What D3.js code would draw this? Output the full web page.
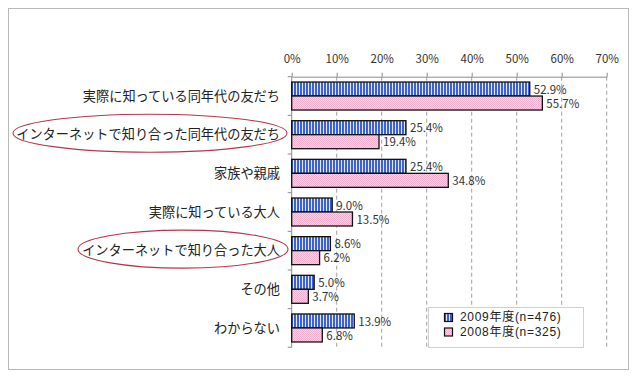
<!DOCTYPE html>
<html><head><meta charset="utf-8">
<script src="https://cdn.jsdelivr.net/npm/d3@7/dist/d3.min.js"></script>
<style>
html,body{margin:0;padding:0;background:#fff;}
svg{display:block;font-family:"Noto Sans CJK JP","Noto Sans",sans-serif;}
</style></head>
<body>
<svg id="chart" width="640" height="381"></svg>
<script>
const categories = ["実際に知っている同年代の友だち","インターネットで知り合った同年代の友だち","家族や親戚","実際に知っている大人","インターネットで知り合った大人","その他","わからない"];
const values2009 = [52.9, 25.4, 25.4, 9.0, 8.6, 5.0, 13.9];
const values2008 = [55.7, 19.4, 34.8, 13.5, 6.2, 3.7, 6.8];
const seriesNames = ["2009年度(n=476)", "2008年度(n=325)"];
const tickValues = [0, 10, 20, 30, 40, 50, 60, 70];
const highlighted = ["インターネットで知り合った同年代の友だち", "インターネットで知り合った大人"];

const svg = d3.select("#chart");
const defs = svg.append("defs");
const pb = defs.append("pattern").attr("id","blueStripe").attr("patternUnits","userSpaceOnUse").attr("width",3).attr("height",4);
pb.append("rect").attr("width",3).attr("height",4).attr("fill","#dfe7fb");
pb.append("rect").attr("width",2).attr("height",4).attr("fill","#3f63c6");
const pp = defs.append("pattern").attr("id","pinkDot").attr("patternUnits","userSpaceOnUse").attr("width",2).attr("height",2);
pp.append("rect").attr("width",2).attr("height",2).attr("fill","#f8d2e5");
pp.append("rect").attr("width",1).attr("height",1).attr("fill","#eeb0cf");
pp.append("rect").attr("x",1).attr("y",1).attr("width",1).attr("height",1).attr("fill","#eeb0cf");

svg.append("rect").attr("x",8.5).attr("y",8.5).attr("width",620).attr("height",361)
  .attr("fill","#fff").attr("stroke","#b8b8b8").attr("stroke-width",1);

const x = d3.scaleLinear().domain([0,70]).range([291.7, 606.7]);
const y = d3.scaleBand().domain(categories).range([76.7, 347.3]);
const barH = 14;

svg.append("g").selectAll("line").data(tickValues.filter(d=>d>0)).join("line")
  .attr("x1",d=>x(d)).attr("x2",d=>x(d)).attr("y1",y.range()[0]).attr("y2",y.range()[1])
  .attr("stroke","#a0a0a0").attr("stroke-width",1).attr("stroke-dasharray","4,3");

const topAxis = d3.axisTop(x).tickValues(tickValues).tickFormat(d=>d+"%").tickSize(4).tickSizeOuter(0);
const gt = svg.append("g").attr("transform",`translate(0,${y.range()[0]})`).call(topAxis);
gt.select(".domain").attr("stroke","#8c8c8c");
gt.selectAll(".tick line").attr("stroke","#8c8c8c");
gt.selectAll("text").attr("font-size",11.5).attr("fill","#333").attr("dy","-0.55em")
  .attr("font-family","'Noto Sans CJK JP',sans-serif");

svg.append("line").attr("x1",x(0)).attr("x2",x(0)).attr("y1",y.range()[0]).attr("y2",y.range()[1])
  .attr("stroke","#8c8c8c");
const bounds = categories.map(c=>y(c)).concat([y.range()[1]]);
svg.append("g").selectAll("line").data(bounds).join("line")
  .attr("x1",x(0)-4).attr("x2",x(0)).attr("y1",d=>d).attr("y2",d=>d).attr("stroke","#8c8c8c");

const rows = categories.map((c,i)=>({c, v9:values2009[i], v8:values2008[i]}));
const g = svg.append("g");
g.selectAll(".b9").data(rows).join("rect").attr("class","b9")
  .attr("x",x(0)).attr("y",d=>y(d.c)+y.bandwidth()/2-barH)
  .attr("width",d=>x(d.v9)-x(0)).attr("height",barH)
  .attr("fill","url(#blueStripe)").attr("stroke","#111").attr("stroke-width",1.3);
g.selectAll(".b8").data(rows).join("rect").attr("class","b8")
  .attr("x",x(0)).attr("y",d=>y(d.c)+y.bandwidth()/2)
  .attr("width",d=>x(d.v8)-x(0)).attr("height",barH)
  .attr("fill","url(#pinkDot)").attr("stroke","#111").attr("stroke-width",1.3);

g.selectAll(".l9").data(rows).join("text")
  .attr("x",d=>x(d.v9)+4).attr("y",d=>y(d.c)+y.bandwidth()/2-barH/2+1.5)
  .attr("dominant-baseline","middle").attr("font-size",11.5).attr("fill","#333")
  .text(d=>d.v9.toFixed(1)+"%");
g.selectAll(".l8").data(rows).join("text")
  .attr("x",d=>x(d.v8)+4).attr("y",d=>y(d.c)+y.bandwidth()/2+barH/2+1.5)
  .attr("dominant-baseline","middle").attr("font-size",11.5).attr("fill","#333")
  .text(d=>d.v8.toFixed(1)+"%");

svg.append("g").selectAll("text").data(categories).join("text")
  .attr("x",280).attr("y",d=>y(d)+y.bandwidth()/2+1)
  .attr("text-anchor","end").attr("dominant-baseline","middle")
  .attr("font-size",13.2).attr("fill","#222").text(d=>d);

const ellipseSpec = {
  "インターネットで知り合った同年代の友だち": {cx:150, rx:137},
  "インターネットで知り合った大人": {cx:183, rx:105}
};
svg.append("g").selectAll("ellipse").data(highlighted).join("ellipse")
  .attr("cx",d=>ellipseSpec[d].cx).attr("cy",d=>y(d)+y.bandwidth()/2-1.5)
  .attr("rx",d=>ellipseSpec[d].rx).attr("ry",19)
  .attr("fill","none").attr("stroke","#b4384a").attr("stroke-width",1.1);

const lg = svg.append("g");
lg.append("rect").attr("x",428.5).attr("y",307.5).attr("width",155).attr("height",40)
  .attr("fill","#fff").attr("stroke","#d0d0d0");
const fills = ["url(#blueStripe)","url(#pinkDot)"];
seriesNames.forEach((s,i)=>{
  const cy = 317.5 + i*14.5;
  lg.append("rect").attr("x",444.5).attr("y",cy-4).attr("width",8).attr("height",8)
    .attr("fill",fills[i]).attr("stroke","#111").attr("stroke-width",1.2);
  lg.append("text").attr("x",460).attr("y",cy+0.5).attr("dominant-baseline","middle")
    .attr("font-family","'Liberation Sans','Noto Sans CJK JP',sans-serif")
    .attr("font-size",12).attr("letter-spacing",0.7).attr("fill","#222").text(s);
});
</script>
</body></html>
